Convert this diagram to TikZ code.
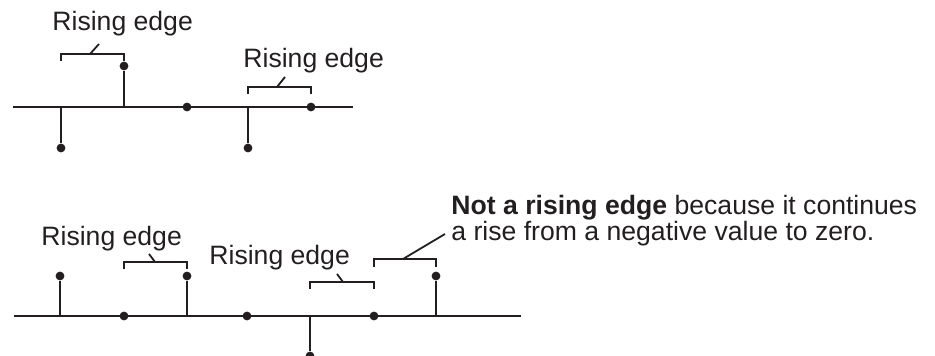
\documentclass[tikz,border=0pt]{standalone}
\usepackage{fontspec}
\setmainfont{Liberation Sans}
\usetikzlibrary{positioning}
\definecolor{PlotInk}{RGB}{35,31,32}

\begin{document}
\begin{tikzpicture}[
x=0.5pt,y=-0.5pt,
axis/.style={draw=PlotInk,line width=1.15pt},
stem/.style={draw=PlotInk,line width=1.1pt},
dot/.style={circle,fill=PlotInk,inner sep=0pt,minimum size=4.4pt},
brk/.style={draw=PlotInk,line width=0.9pt},
lbl/.style={anchor=base west,inner sep=0pt,text=PlotInk,font=\fontsize{13.3}{13}\selectfont}
]
\useasboundingbox (0,0) rectangle (935,356);
% upper sequence
\coordinate (ta) at (13,107); \coordinate (tb) at (353,107);
\draw[axis] (ta)--(tb);
\foreach \n/\x/\v in {u1/61/-1,u2/124/1,u3/187/0,u4/248/-1,u5/311/0}{
  \coordinate (\n0) at (\x,107);
  \node[dot] (\n) at (\x,{107-41*\v}) {};
  \draw[stem] (\n0)--(\n);
}
\node[lbl] (ulab1) at (52,31) {Rising edge};
\node[lbl] (ulab2) at (243,68) {Rising edge};
\draw[brk] (61,61)--(61,54)--(124,54)--(124,61);
\draw[brk] (90,54)--(99,44);
\draw[brk] (248,94)--(248,87)--(311,87)--(311,94);
\draw[brk] (277,87)--(285,77);
% lower sequence
\coordinate (ba) at (14,316); \coordinate (bb) at (521,316);
\draw[axis] (ba)--(bb);
\foreach \n/\x/\v in {l1/60/1,l2/124/0,l3/187/1,l4/247/0,l5/310/-1,l6/374/0,l7/436/1}{
  \coordinate (\n0) at (\x,316);
  \node[dot] (\n) at (\x,{316-40*\v}) {};
  \draw[stem] (\n0)--(\n);
}
\node[lbl] (llab1) at (41,246) {Rising edge};
\node[lbl] (llab2) at (209,265) {Rising edge};
\node[lbl,align=left] (note) at (451,241) {\textbf{Not a rising edge} because it continues\\a rise from a negative value to zero.};
\draw[brk] (124,269)--(124,262)--(187,262)--(187,269);
\draw[brk] (155,262)--(149,254);
\draw[brk] (310,289)--(310,282)--(374,282)--(374,289);
\draw[brk] (343,282)--(337,274);
\draw[brk] (374,267)--(374,259)--(436,259)--(436,267);
\draw[brk] (403,259)--(445,234);
\end{tikzpicture}
\end{document}
